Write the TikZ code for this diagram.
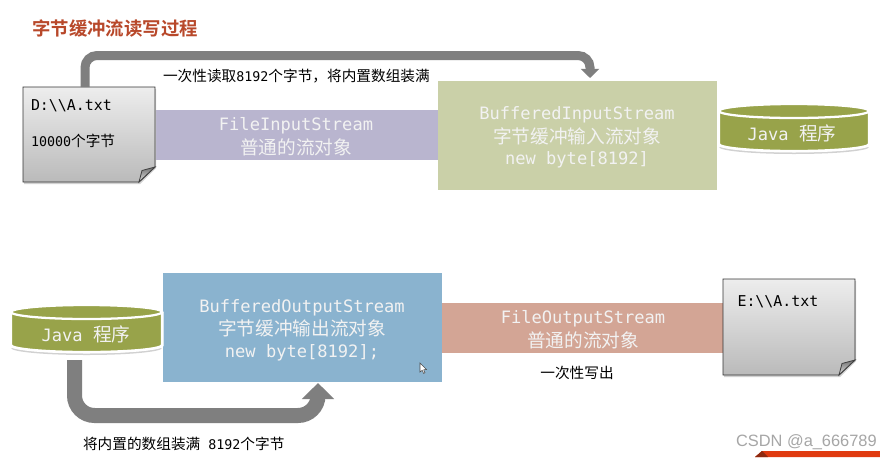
\documentclass[tikz,border=0pt]{standalone}
\usepackage{fontspec}
\usetikzlibrary{arrows.meta,shadows,calc}
\setmainfont{Noto Sans CJK SC}
\newfontfamily\monof{DejaVu Sans Mono}
\newfontfamily\cjkf{Noto Sans CJK SC}
\newfontfamily\cjkb{Noto Sans CJK SC Bold}
\newfontfamily\latf{Liberation Sans}
\definecolor{purp}{HTML}{B9B5CF}
\definecolor{grn}{HTML}{CAD0A8}
\definecolor{blu}{HTML}{8AB3CF}
\definecolor{sal}{HTML}{D3A595}
\definecolor{oliv}{HTML}{98A34A}
\definecolor{arrowg}{HTML}{7F7F7F}
\definecolor{titlec}{HTML}{B8482A}
\definecolor{softw}{HTML}{F2F2F2}
\definecolor{bannerr}{HTML}{E03A10}
\definecolor{bannerd}{HTML}{8E2A10}
\newcommand{\mf}[1]{{\fontsize{12.8pt}{16pt}\selectfont\monof #1}}
\newcommand{\cf}[1]{{\fontsize{14pt}{16pt}\selectfont\cjkf #1}}
\newcommand{\ms}[1]{{\fontsize{10pt}{12pt}\selectfont\monof #1}}
\newcommand{\cs}[1]{{\fontsize{11pt}{12pt}\selectfont\cjkf #1}}
\newcommand{\mfile}[1]{{\fontsize{11.2pt}{12pt}\selectfont\monof #1}}
\tikzset{
  x=0.75pt,y=-0.75pt,
  band/.style={rectangle,inner sep=0pt,outer sep=0pt},
  lab/.style={inner sep=0pt,outer sep=0pt,text=softw},
  plain/.style={inner sep=0pt,outer sep=0pt,text=black},
  flow/.style={draw=arrowg,rounded corners=9pt,-{Triangle[width=13.5pt,length=6.8pt]},line width=6.75pt},
  flowb/.style={draw=arrowg,rounded corners=15pt,-{Triangle[width=23.5pt,length=12pt]},line width=11.25pt},
}
% name, x0, y0, x1, y1
\newcommand{\docnote}[5]{%
  \fill[black!18] (#2+1,#3+2) -- (#4+1,#3+2) -- (#4+1,#5-15+1) -- (#4-16+1,#5+2) -- (#2+1,#5+2) -- cycle;
  \draw[black!80,line width=0.7pt,top color=black!7,bottom color=black!27]
    (#2,#3) -- (#4,#3) -- (#4,#5-15) -- (#4-16,#5) -- (#2,#5) -- cycle;
  \draw[black!75,line width=0.6pt,top color=black!55,bottom color=black!12]
    (#4,#5-15) -- (#4-13,#5-11.5) -- (#4-16,#5) -- cycle;
  \node[inner sep=0pt,outer sep=0pt,minimum width=#4*0.75pt-#2*0.75pt,minimum height=#5*0.75pt-#3*0.75pt] (#1) at ({(#2+#4)/2},{(#3+#5)/2}) {};
}
% name, x0, x1, y-top, y-bottom
\newcommand{\drum}[5]{%
  \fill[black!18] (#2,#5-7) arc[start angle=180,end angle=360,x radius={(#3-#2)/2*0.75pt},y radius=7*0.75pt] -- cycle;
  \fill[white] (#2-1.5,#4+7) -- (#2-1.5,#5-9) arc[start angle=180,end angle=360,x radius={(#3-#2+3)/2*0.75pt},y radius=7.5*0.75pt] -- (#3+1.5,#4+7) -- cycle;
  \draw[white,line width=1.7pt,fill=oliv] (#2,#4+7) -- (#2,#5-10) arc[start angle=180,end angle=360,x radius={(#3-#2)/2*0.75pt},y radius=7*0.75pt] -- (#3,#4+7) arc[start angle=0,end angle=180,x radius={(#3-#2)/2*0.75pt},y radius=7*0.75pt] -- cycle;
  \draw[white,line width=1.7pt,fill=oliv] ({(#2+#3)/2},#4+7) ellipse[x radius={(#3-#2)/2*0.75pt},y radius=7*0.75pt];
  \node[inner sep=0pt,outer sep=0pt,minimum width=#3*0.75pt-#2*0.75pt,minimum height=#5*0.75pt-#4*0.75pt] (#1) at ({(#2+#3)/2},{(#4+#5)/2}) {};
}
\begin{document}
\begin{tikzpicture}
\useasboundingbox (0,0) rectangle (880,457);
\fill[white] (0,0) rectangle (880,457);
% title
\node[inner sep=0pt,anchor=west,text=titlec] (title) at (32,28) {\fontsize{13.8pt}{16pt}\selectfont\cjkb 字节缓冲流读写过程};
% bands
\node[band,fill=purp,minimum width=212.25pt,minimum height=37.5pt] (fis) at (296.5,135) {};
\node[band,fill=grn,minimum width=209.25pt,minimum height=81.75pt] (bis) at (577.5,135.5) {};
\node[band,fill=blu,minimum width=209.25pt,minimum height=81.75pt] (bos) at (302.5,327.5) {};
\node[band,fill=sal,minimum width=211.5pt,minimum height=37.5pt] (fos) at (582.5,328) {};
% documents and drums
\docnote{docA}{23}{87}{155}{182}
\docnote{docE}{723}{279}{855}{375}
\drum{javaA}{719}{869}{104}{154}
\drum{javaB}{11}{162}{305}{355}
% connectors
\coordinate (a1) at ($(docA.north west)+(62,0)$);
\coordinate (a2) at ($(bis.north west)+(152,-3)$);
\draw[flow] (a1) -- (a1 |- 0,55.5) -- (a2 |- 0,55.5) -- (a2);
\coordinate (b1) at ($(javaB.south west)+(63.5,5)$);
\coordinate (b2) at ($(bos.south west)+(155,1)$);
\draw[flowb] (b1) -- (b1 |- 0,415.5) -- (b2 |- 0,415.5) -- (b2);
% band texts
\node[lab] (t1a) at (296,125.5) {\mf{FileInputStream}};
\node[lab] (t1b) at (296,147) {\cf{普通的流对象}};
\node[lab] (t2a) at (577,115) {\mf{BufferedInputStream}};
\node[lab] (t2b) at (577,136) {\cf{字节缓冲输入流对象}};
\node[lab] (t2c) at (577,160) {\mf{new byte[8192]}};
\node[lab] (t3a) at (302,307.5) {\mf{BufferedOutputStream}};
\node[lab] (t3b) at (302,328) {\cf{字节缓冲输出流对象}};
\node[lab] (t3c) at (302,352.5) {\mf{new byte[8192];}};
\node[lab] (t4a) at (583,319) {\mf{FileOutputStream}};
\node[lab] (t4b) at (583,340) {\cf{普通的流对象}};
\node[lab] (j1) at (792,133.5) {\mf{Java\ }\cf{程序}};
\node[lab] (j2) at (86,334.5) {\mf{Java\ }\cf{程序}};
% doc texts
\node[plain,anchor=west] (d1) at (31,106) {\mfile{D:\textbackslash\textbackslash A.txt}};
\node[plain,anchor=west] (d2) at (31,141) {\ms{10000}\cs{个字节}};
\node[plain,anchor=west] (d3) at (737.5,302) {\mfile{E:\textbackslash\textbackslash A.txt}};
% annotations
\node[plain,anchor=west] (n1) at (163,76) {\cs{一次性读取}\ms{8192}\cs{个字节，将内置数组装满}};
\node[plain,anchor=west] (n2) at (83,444) {\cs{将内置的数组装满}\ms{\ 8192}\cs{个字节}};
\node[plain] (n3) at (577,373) {\cs{一次性写出}};
% banner
\fill[bannerr] (762,451) -- (880,451) -- (880,457) -- (755,457) -- cycle;
\fill[bannerd] (762,451) -- (768,457) -- (755,457) -- cycle;
% watermark
\node[inner sep=0pt,anchor=east,text=black!35] (wm) at (877,442) {\fontsize{12.3pt}{14pt}\selectfont\latf CSDN @a\_666789};
% cursor
\draw[black!70,fill=white,line width=0.4pt] (420,363) -- (420,372) -- (422.2,370.3) -- (423.6,373.4) -- (425,372.8) -- (423.6,369.8) -- (426.5,369.6) -- cycle;
\end{tikzpicture}
\end{document}
